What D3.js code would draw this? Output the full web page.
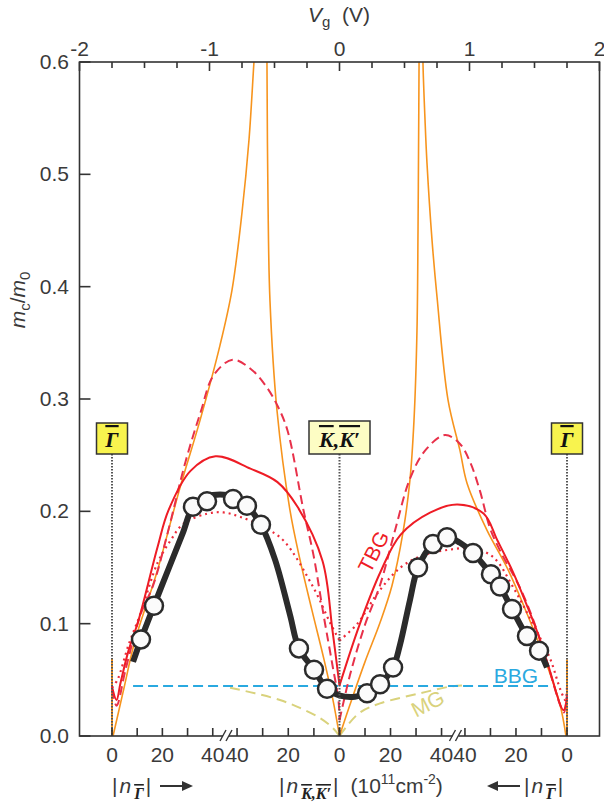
<!DOCTYPE html>
<html>
<head>
<meta charset="utf-8">
<script src="https://cdn.jsdelivr.net/npm/d3@7"></script>
<style>
  body { margin: 0; background: #fff; }
  text { font-family: "Liberation Sans", Arial, sans-serif; fill: #3a3a3a; }
</style>
</head>
<body>
<script>
// measured cyclotron mass (circles) vs gate voltage
const dataVg = [-1.527, -1.427, -1.127, -1.019, -0.819, -0.712, -0.604, -0.312, -0.196, -0.096, 0.212, 0.312, 0.412, 0.604, 0.719, 0.827, 1.027, 1.165, 1.235, 1.327, 1.442, 1.535];
const dataM = [0.086, 0.116, 0.204, 0.209, 0.211, 0.205, 0.188, 0.078, 0.059, 0.042, 0.038, 0.046, 0.061, 0.150, 0.171, 0.177, 0.163, 0.144, 0.133, 0.113, 0.089, 0.076];

// thick guide line through the data
const fitVg = [-1.588, -1.527, -1.427, -1.304, -1.204, -1.127, -1.019, -0.919, -0.819, -0.712, -0.604, -0.496, -0.381, -0.312, -0.196, -0.096, 0.004, 0.119, 0.212, 0.312, 0.412, 0.465, 0.542, 0.604, 0.719, 0.827, 0.927, 1.027, 1.165, 1.235, 1.327, 1.442, 1.535, 1.596];
const fitM = [0.066, 0.086, 0.116, 0.152, 0.181, 0.204, 0.213, 0.215, 0.213, 0.205, 0.188, 0.157, 0.108, 0.078, 0.059, 0.042, 0.036, 0.035, 0.038, 0.046, 0.061, 0.081, 0.121, 0.150, 0.171, 0.177, 0.172, 0.163, 0.144, 0.133, 0.113, 0.089, 0.076, 0.061];

// TBG calculations (red): solid, dashed, dotted
const redSolidVg = [-1.75, -1.715, -1.685, -1.623, -1.546, -1.4, -1.315, -1.146, -0.954, -0.685, -0.477, -0.323, -0.131, -0.054, 0, 0.154, 0.315, 0.469, 0.7, 0.908, 1.108, 1.215, 1.338, 1.446, 1.523, 1.6, 1.723, 1.75];
const redSolidM = [0.044, 0.032, 0.047, 0.076, 0.103, 0.168, 0.201, 0.236, 0.249, 0.238, 0.226, 0.204, 0.156, 0.094, 0.045, 0.099, 0.146, 0.179, 0.199, 0.206, 0.198, 0.174, 0.145, 0.115, 0.092, 0.065, 0.023, 0.035];

const redDashVg = [-1.75, -1.715, -1.646, -1.531, -1.431, -1.315, -1.185, -1.069, -0.969, -0.823, -0.685, -0.569, -0.477, -0.4, -0.277, -0.2, -0.123, -0.054, -0.008, 0, 0.08, 0.196, 0.311, 0.427, 0.542, 0.658, 0.812, 0.927, 1.004, 1.081, 1.158, 1.235, 1.388, 1.504, 1.604, 1.696, 1.727, 1.75];
const redDashM = [0.041, 0.027, 0.059, 0.108, 0.135, 0.184, 0.244, 0.288, 0.321, 0.335, 0.327, 0.312, 0.294, 0.272, 0.201, 0.161, 0.108, 0.063, 0.032, 0.014, 0.054, 0.099, 0.134, 0.183, 0.229, 0.254, 0.268, 0.260, 0.244, 0.218, 0.185, 0.165, 0.132, 0.099, 0.063, 0.028, 0.021, 0.037];

const redDotVg = [-1.75, -1.708, -1.623, -1.531, -1.4, -1.3, -1.2, -1.015, -0.892, -0.762, -0.585, -0.431, -0.2, -0.069, 0, 0.138, 0.292, 0.469, 0.646, 0.854, 1.031, 1.185, 1.338, 1.446, 1.523, 1.623, 1.7, 1.738, 1.75];
const redDotM = [0.043, 0.05, 0.081, 0.109, 0.154, 0.174, 0.189, 0.198, 0.199, 0.195, 0.186, 0.174, 0.132, 0.100, 0.085, 0.100, 0.127, 0.150, 0.161, 0.166, 0.167, 0.159, 0.132, 0.109, 0.092, 0.068, 0.041, 0.032, 0.045];

// orange branches (diverging near the van Hove points)
const orange1Vg = [-1.742, -1.665, -1.573, -1.404, -1.227, -1.073, -0.919, -0.827, -0.75, -0.696, -0.658, -0.646];
const orange1M = [0, 0.039, 0.085, 0.146, 0.221, 0.281, 0.348, 0.397, 0.466, 0.531, 0.6, 0.62];
const orange2Vg = [-0.558, -0.558, -0.55, -0.535, -0.481, -0.381, -0.304, -0.212, -0.119, -0.05, 0];
const orange2M = [0.62, 0.6, 0.477, 0.388, 0.29, 0.201, 0.157, 0.112, 0.068, 0.032, 0];
const orange3Vg = [0, 0.081, 0.196, 0.312, 0.404, 0.488, 0.542, 0.573, 0.596, 0.604, 0.608, 0.612, 0.612];
const orange3M = [0, 0.028, 0.066, 0.101, 0.134, 0.181, 0.228, 0.281, 0.361, 0.45, 0.521, 0.6, 0.62];
const orange4Vg = [0.642, 0.642, 0.658, 0.673, 0.712, 0.75, 0.835, 0.927, 0.981, 1.135, 1.288, 1.442, 1.581, 1.696, 1.742];
const orange4M = [0.62, 0.6, 0.548, 0.51, 0.441, 0.391, 0.299, 0.254, 0.225, 0.183, 0.15, 0.109, 0.068, 0.028, 0];
const stubVg = [-1.75, 1.75];
const stubM = [0.069, 0.068];

// BBG and MG references
const bbgVg = [-1.588, 1.642];
const bbgM = [0.0445, 0.0445];
const mgVg = [-0.842, -0.65, -0.458, -0.304, -0.15, -0.05, 0, 0.058, 0.158, 0.312, 0.619, 0.85, 0.942];
const mgM = [0.043, 0.038, 0.032, 0.025, 0.016, 0.007, 0, 0.009, 0.021, 0.029, 0.038, 0.044, 0.045];

// axes
const topTicks = d3.range(-2, 2.001, 0.25);
const topLabels = [-2, -1, 0, 1, 2];
const yTicks = [0, 0.1, 0.2, 0.3, 0.4, 0.5, 0.6];
const nTicks = [0, 10, 20, 30, 40];
// bottom tick labels, left to right, and the segment each belongs to
const bottomLabels = [0, 20, 40, 40, 20, 0, 20, 40, 40, 20, 0];
const bottomLabelSeg = [0, 0, 0, 1, 1, 1, 2, 2, 3, 3, 3];
const segZeroVg = [-1.75, 0, 0, 1.75];     // n = 0 of each bottom segment
const segFortyVg = [-0.975, -0.788, 0.785, 0.965]; // n = 40 of each bottom segment
const breakVg = [-0.873, 0.892];
const markVg = [-1.75, 0, 1.75];
const markKind = ['G', 'K', 'G'];

const width = 604, height = 805;
const x = d3.scaleLinear().domain([-2, 2]).range([79.5, 599.5]);
const y = d3.scaleLinear().domain([0, 0.6]).range([736, 62]);

const svg = d3.select('body').append('svg')
  .attr('width', width).attr('height', height);

svg.append('clipPath').attr('id', 'plotclip')
  .append('rect').attr('x', x(-2)).attr('y', y(0.6)).attr('width', x(2) - x(-2)).attr('height', y(0) - y(0.6));

const plot = svg.append('g').attr('clip-path', 'url(#plotclip)');

function zip(vg, m) { return vg.map((v, i) => [v, m[i]]); }
// split a curve at its K point so the cusp stays sharp
function pieces(vg, m) {
  const pts = zip(vg, m);
  const k = vg.indexOf(0);
  if (k <= 0 || k === vg.length - 1) return [pts];
  return [pts.slice(0, k + 1), pts.slice(k)];
}
const smooth = d3.line().x(d => x(d[0])).y(d => y(d[1])).curve(d3.curveCatmullRom.alpha(0.5));
const straight = d3.line().x(d => x(d[0])).y(d => y(d[1]));

function drawCurve(vg, m, style) {
  pieces(vg, m).forEach(p => {
    const path = plot.append('path').attr('d', smooth(p)).attr('fill', 'none');
    Object.entries(style).forEach(([k, v]) => path.attr(k, v));
  });
}

// MG and BBG
drawCurve(mgVg, mgM, { stroke: '#d9d27c', 'stroke-width': 2, 'stroke-dasharray': '10,6' });
plot.append('path').attr('d', straight(zip(bbgVg, bbgM)))
  .attr('stroke', '#2aa9e0').attr('stroke-width', 2).attr('stroke-dasharray', '10,5').attr('fill', 'none');

// orange
const orangeStyle = { stroke: '#f7941d', 'stroke-width': 1.6 };
drawCurve(orange1Vg, orange1M, orangeStyle);
drawCurve(orange2Vg, orange2M, orangeStyle);
drawCurve(orange3Vg, orange3M, orangeStyle);
drawCurve(orange4Vg, orange4M, orangeStyle);
plot.selectAll('line.stub').data(stubVg).join('line').attr('class', 'stub')
  .attr('x1', d => x(d)).attr('x2', d => x(d))
  .attr('y1', y(0)).attr('y2', (d, i) => y(stubM[i]))
  .attr('stroke', '#f7941d').attr('stroke-width', 2);

// red TBG
drawCurve(redDotVg, redDotM, { stroke: '#ec2a3a', 'stroke-width': 2.2, 'stroke-dasharray': '2,4' });
drawCurve(redDashVg, redDashM, { stroke: '#e8314a', 'stroke-width': 2, 'stroke-dasharray': '9,5' });
drawCurve(redSolidVg, redSolidM, { stroke: '#ee1c25', 'stroke-width': 2 });

// vertical dotted markers
svg.selectAll('line.mark').data(markVg).join('line').attr('class', 'mark')
  .attr('x1', d => x(d)).attr('x2', d => x(d))
  .attr('y1', 454).attr('y2', y(0))
  .attr('stroke', '#555').attr('stroke-width', 2).attr('stroke-dasharray', '1.5,1.5');

// thick fit and data circles
plot.append('path').attr('d', smooth(zip(fitVg, fitM)))
  .attr('fill', 'none').attr('stroke', '#2b2b2b').attr('stroke-width', 6);
plot.selectAll('circle.pt').data(zip(dataVg, dataM)).join('circle').attr('class', 'pt')
  .attr('cx', d => x(d[0])).attr('cy', d => y(d[1])).attr('r', 9)
  .attr('fill', '#fbfbfb').attr('stroke', '#2b2b2b').attr('stroke-width', 2.5);

// curve labels
svg.append('text').attr('x', 516).attr('y', 683).attr('text-anchor', 'middle')
  .attr('font-size', 21).style('fill', '#2aa9e0').text('BBG');
svg.append('text').attr('transform', 'translate(431,710) rotate(-27)').attr('text-anchor', 'middle')
  .attr('font-size', 21).style('fill', '#d9d27c').text('MG');
svg.append('text').attr('transform', 'translate(380,555) rotate(-63)').attr('text-anchor', 'middle')
  .attr('font-size', 21).style('fill', '#ee1c25').text('TBG');

// point labels in boxes
markVg.forEach((v, i) => {
  const g = markKind[i] === 'G';
  const w = g ? 31 : 61;
  const g0 = svg.append('g');
  g0.append('rect').attr('x', x(v) - w / 2).attr('y', g ? 423 : 421).attr('width', w).attr('height', g ? 31 : 33)
    .attr('fill', g ? '#f8f34e' : '#fdfdc4').attr('stroke', '#333').attr('stroke-width', 1.5);
  const t = g0.append('text').attr('x', x(v)).attr('y', 447).attr('text-anchor', 'middle')
    .attr('font-size', 22).style('font-family', '"Liberation Serif", "DejaVu Serif", serif')
    .style('font-weight', 'bold').style('font-style', 'italic').style('fill', '#111');
  if (g) {
    t.append('tspan').style('text-decoration', 'overline').text('Γ');
  } else {
    t.append('tspan').style('text-decoration', 'overline').text('K');
    t.append('tspan').text(',');
    t.append('tspan').style('text-decoration', 'overline').text('K′');
  }
});

// frame
svg.append('rect').attr('x', x(-2)).attr('y', y(0.6)).attr('width', x(2) - x(-2)).attr('height', y(0) - y(0.6))
  .attr('fill', 'none').attr('stroke', '#333').attr('stroke-width', 1.6);

// left axis
svg.selectAll('line.yt').data(yTicks).join('line').attr('class', 'yt')
  .attr('x1', x(-2)).attr('x2', x(-2) + 11).attr('y1', d => y(d)).attr('y2', d => y(d))
  .attr('stroke', '#333').attr('stroke-width', 1.6);
svg.selectAll('text.yl').data(yTicks).join('text').attr('class', 'yl')
  .attr('x', 69).attr('y', d => y(d) + 7).attr('text-anchor', 'end').attr('font-size', 21)
  .text(d => d.toFixed(1));
const ylab = svg.append('text').attr('transform', 'translate(25,300) rotate(-90)')
  .attr('text-anchor', 'middle').attr('font-size', 21);
ylab.append('tspan').style('font-style', 'italic').text('m');
ylab.append('tspan').attr('font-size', 15).attr('dy', 5).text('c');
ylab.append('tspan').attr('dy', -5).text('/');
ylab.append('tspan').style('font-style', 'italic').text('m');
ylab.append('tspan').attr('font-size', 15).attr('dy', 5).text('0');

// top axis (gate voltage)
svg.selectAll('line.tt').data(topTicks).join('line').attr('class', 'tt')
  .attr('x1', d => x(d)).attr('x2', d => x(d)).attr('y1', y(0.6))
  .attr('y2', d => y(0.6) + (Number.isInteger(d) ? 9 : 6))
  .attr('stroke', '#333').attr('stroke-width', 1.6);
svg.selectAll('text.tl').data(topLabels).join('text').attr('class', 'tl')
  .attr('x', d => x(d)).attr('y', 56).attr('text-anchor', 'middle').attr('font-size', 21)
  .text(d => d);
const vlab = svg.append('text').attr('x', 339).attr('y', 22).attr('text-anchor', 'middle').attr('font-size', 21);
vlab.append('tspan').style('font-style', 'italic').text('V');
vlab.append('tspan').attr('font-size', 15).attr('dy', 5).text('g');
vlab.append('tspan').attr('dy', -5).text('\u00a0 (V)');

// bottom axis: four carrier density segments, each its own scale
const segScales = segZeroVg.map((z, i) => d3.scaleLinear().domain([0, 40]).range([x(z), x(segFortyVg[i])]));
const bottomTickPos = segScales.flatMap(s => nTicks.map(n => s(n)));

svg.selectAll('line.bt').data(bottomTickPos).join('line').attr('class', 'bt')
  .attr('x1', d => d).attr('x2', d => d).attr('y1', y(0)).attr('y2', y(0) - 8)
  .attr('stroke', '#333').attr('stroke-width', 1.6);

breakVg.forEach(b => {
  svg.append('rect').attr('x', x(b) - 3).attr('y', y(0) - 3).attr('width', 6).attr('height', 6).attr('fill', '#fff');
  [-3, 3].forEach(o => svg.append('line')
    .attr('x1', x(b) + o - 3).attr('x2', x(b) + o + 3).attr('y1', y(0) + 5).attr('y2', y(0) - 6)
    .attr('stroke', '#333').attr('stroke-width', 1.4));
});

// bottom axis titles
function nLabel(xPos, sub) {
  const t = svg.append('text').attr('x', xPos).attr('y', 793).attr('font-size', 21);
  t.append('tspan').text('|');
  t.append('tspan').attr('dx', 2).style('font-style', 'italic').text('n');
  const s = t.append('tspan').attr('dx', 3).attr('dy', 6).attr('font-size', 16)
    .style('font-family', '"Liberation Serif", serif').style('font-weight', 'bold').style('font-style', 'italic').style('fill', '#222');
  if (sub === 'G') {
    s.append('tspan').style('text-decoration', 'overline').text('Γ');
  } else {
    s.append('tspan').style('text-decoration', 'overline').text('K');
    s.append('tspan').text(',');
    s.append('tspan').style('text-decoration', 'overline').text('K′');
  }
  t.append('tspan').attr('dx', 2).attr('dy', -6).text('|');
  return t;
}
nLabel(112, 'G');
nLabel(524, 'G');
const mid = nLabel(279, 'K');
mid.append('tspan').attr('dx', 12).text('(10');
mid.append('tspan').attr('font-size', 14).attr('dy', -9).text('11');
mid.append('tspan').attr('dy', 9).text('cm');
mid.append('tspan').attr('font-size', 14).attr('dy', -9).text('-2');
mid.append('tspan').attr('dy', 9).text(')');

function arrow(x1, x2) {
  const dir = Math.sign(x2 - x1);
  svg.append('line').attr('x1', x1).attr('x2', x2 - dir * 8).attr('y1', 786).attr('y2', 786)
    .attr('stroke', '#333').attr('stroke-width', 2);
  svg.append('path').attr('d', `M${x2},786 L${x2 - dir * 11},781 L${x2 - dir * 11},791 Z`).attr('fill', '#333');
}
arrow(160, 193);
arrow(520, 487);

// bottom tick labels drawn last
const bottomGroup = svg.append('g');
bottomLabels.forEach((n, i) => {
  bottomGroup.append('text')
    .attr('x', segScales[bottomLabelSeg[i]](n)).attr('y', 762)
    .attr('text-anchor', 'middle').attr('font-size', 21)
    .text(String(n));
});
</script>
</body>
</html>
